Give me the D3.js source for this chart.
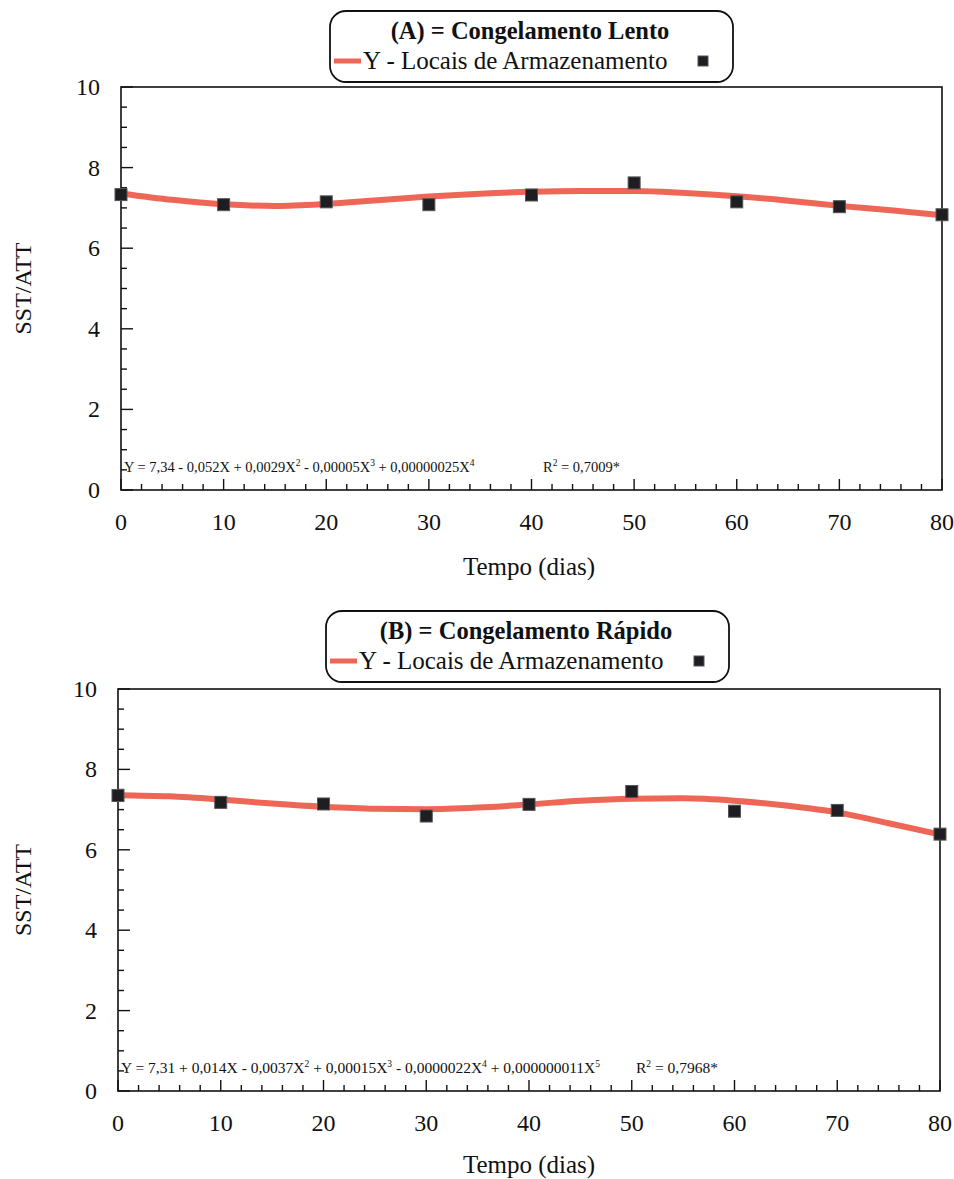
<!DOCTYPE html>
<html>
<head>
<meta charset="utf-8">
<script src="https://cdn.jsdelivr.net/npm/d3@7"></script>
<style>
  body { margin: 0; background: #fff; }
  svg text { font-family: "Liberation Serif", "Times New Roman", serif; fill: #111; }
</style>
</head>
<body>
<div id="chart"></div>
<script>
// observed days
var days = [0, 10, 20, 30, 40, 50, 60, 70, 80];
// (A) slow freezing - measured SST/ATT
var valuesA = [7.33, 7.08, 7.15, 7.08, 7.32, 7.62, 7.15, 7.03, 6.83];
// (B) fast freezing - measured SST/ATT
var valuesB = [7.35, 7.18, 7.14, 6.84, 7.13, 7.45, 6.96, 6.98, 6.39];
// fitted curves
var curveDays = [0, 5, 10, 15, 20, 25, 30, 35, 40, 45, 50, 55, 60, 65, 70, 75, 80];
var curveA = [7.36, 7.2, 7.09, 7.05, 7.1, 7.19, 7.28, 7.35, 7.4, 7.42, 7.42, 7.37, 7.29, 7.18, 7.05, 6.94, 6.82];
var curveB = [7.36, 7.33, 7.25, 7.15, 7.07, 7.02, 7.01, 7.05, 7.13, 7.22, 7.27, 7.28, 7.22, 7.1, 6.93, 6.66, 6.38];
var xTicks = [0, 10, 20, 30, 40, 50, 60, 70, 80];
var yTicks = [0, 2, 4, 6, 8, 10];
var titles = ["(A) = Congelamento Lento", "(B) = Congelamento Rápido"];
var seriesLabel = "Y - Locais de Armazenamento";
var equations = [
  ["Y = 7,34 - 0,052X + 0,0029X", "2", " - 0,00005X", "3", " + 0,00000025X", "4"],
  ["Y = 7,31 + 0,014X - 0,0037X", "2", " + 0,00015X", "3", " - 0,0000022X", "4", " + 0,000000011X", "5"]
];
var r2Values = ["0,7009*", "0,7968*"];

var svg = d3.select("#chart").append("svg")
  .attr("width", 954)
  .attr("height", 1179);

var lineColor = "#ee6656";

function drawPanel(cfg) {
  var g = svg.append("g");
  var x = d3.scaleLinear().domain([0, 80]).range([cfg.left, cfg.right]);
  var y = d3.scaleLinear().domain([0, 10]).range([cfg.bottom, cfg.top]);

  // frame
  g.append("rect")
    .attr("x", cfg.left).attr("y", cfg.top)
    .attr("width", cfg.right - cfg.left).attr("height", cfg.bottom - cfg.top)
    .attr("fill", "none").attr("stroke", "#111").attr("stroke-width", 1.6);

  // y ticks, inside
  d3.range(0, 10.01, 0.5).forEach(function (v) {
    var major = Math.abs(v % 2) < 0.001;
    g.append("line")
      .attr("x1", cfg.left).attr("x2", cfg.left + (major ? 12 : 6))
      .attr("y1", y(v)).attr("y2", y(v))
      .attr("stroke", "#111").attr("stroke-width", 1.4);
  });
  g.selectAll("text.ytick").data(yTicks).enter().append("text")
    .attr("class", "ytick")
    .attr("x", cfg.left - 21)
    .attr("y", function (d) { return y(d) + 8; })
    .attr("text-anchor", "end")
    .attr("font-size", 24)
    .text(function (d) { return d; });

  // x ticks, inside
  d3.range(0, 80.01, 2).forEach(function (v) {
    var major = v % 10 === 0;
    g.append("line")
      .attr("x1", x(v)).attr("x2", x(v))
      .attr("y1", cfg.bottom).attr("y2", cfg.bottom - (major ? 11 : 6))
      .attr("stroke", "#111").attr("stroke-width", 1.4);
  });
  g.selectAll("text.xtick").data(xTicks).enter().append("text")
    .attr("class", "xtick")
    .attr("x", function (d) { return x(d); })
    .attr("y", cfg.bottom + 40)
    .attr("text-anchor", "middle")
    .attr("font-size", 24)
    .text(function (d) { return d; });

  // axis titles
  g.append("text")
    .attr("transform", "translate(" + 31 + "," + ((cfg.top + cfg.bottom) / 2) + ") rotate(-90)")
    .attr("text-anchor", "middle")
    .attr("font-size", 24)
    .text("SST/ATT");
  g.append("text")
    .attr("x", 529).attr("y", cfg.bottom + cfg.titleGap)
    .attr("text-anchor", "middle")
    .attr("font-size", 25)
    .text("Tempo (dias)");

  // fitted curve
  var line = d3.line()
    .x(function (d, i) { return x(curveDays[i]); })
    .y(function (d) { return y(d); })
    .curve(d3.curveMonotoneX);
  g.append("path")
    .datum(cfg.curve)
    .attr("d", line)
    .attr("fill", "none")
    .attr("stroke", lineColor)
    .attr("stroke-width", 6)
    .attr("stroke-linecap", "round");

  // observed points
  g.selectAll("rect.pt").data(cfg.values).enter().append("rect")
    .attr("class", "pt")
    .attr("x", function (d, i) { return x(days[i]) - 6; })
    .attr("y", function (d) { return y(d) - 6; })
    .attr("width", 12).attr("height", 12)
    .attr("fill", "#1e1e22")
    .attr("stroke", "#555").attr("stroke-width", 1);

  // equation
  var eq = g.append("text")
    .attr("x", cfg.left + 3).attr("y", cfg.bottom - 18)
    .attr("font-size", cfg.eqSize);
  cfg.equation.forEach(function (part, i) {
    if (i % 2 === 1) {
      eq.append("tspan").attr("dy", -6).attr("font-size", 9.5).text(part);
    } else {
      eq.append("tspan").attr("dy", i === 0 ? 0 : 6).text(part);
    }
  });
  var r2 = g.append("text")
    .attr("x", cfg.r2x).attr("y", cfg.bottom - 18)
    .attr("font-size", cfg.eqSize);
  r2.append("tspan").text("R");
  r2.append("tspan").attr("dy", -6).attr("font-size", 9.5).text("2");
  r2.append("tspan").attr("dy", 6).text(" = " + cfg.r2);

  // legend box
  var lg = g.append("g");
  lg.append("rect")
    .attr("x", cfg.legX).attr("y", cfg.legY)
    .attr("width", 403).attr("height", 71)
    .attr("rx", 16).attr("ry", 16)
    .attr("fill", "#fff").attr("stroke", "#111").attr("stroke-width", 1.8);
  lg.append("text")
    .attr("x", cfg.legX + 200).attr("y", cfg.legY + 28)
    .attr("text-anchor", "middle")
    .attr("font-size", 24.5).attr("font-weight", "bold")
    .text(cfg.title);
  lg.append("line")
    .attr("x1", cfg.legX + 4).attr("x2", cfg.legX + 31)
    .attr("y1", cfg.legY + 50).attr("y2", cfg.legY + 50)
    .attr("stroke", lineColor).attr("stroke-width", 5);
  lg.append("text")
    .attr("x", cfg.legX + 33).attr("y", cfg.legY + 58)
    .attr("font-size", 25)
    .text(seriesLabel);
  lg.append("rect")
    .attr("x", cfg.legX + 368).attr("y", cfg.legY + 45)
    .attr("width", 10).attr("height", 10)
    .attr("fill", "#1e1e22").attr("stroke", "#555").attr("stroke-width", 1);
}

drawPanel({
  left: 121, right: 942, top: 87, bottom: 490,
  values: valuesA, curve: curveA, title: titles[0],
  equation: equations[0], r2: r2Values[0], r2x: 543, eqSize: 14.5,
  legX: 330, legY: 11, titleGap: 85
});
drawPanel({
  left: 118, right: 940, top: 689, bottom: 1091,
  values: valuesB, curve: curveB, title: titles[1],
  equation: equations[1], r2: r2Values[1], r2x: 636, eqSize: 15.5,
  legX: 326, legY: 611, titleGap: 82
});
</script>
</body>
</html>
